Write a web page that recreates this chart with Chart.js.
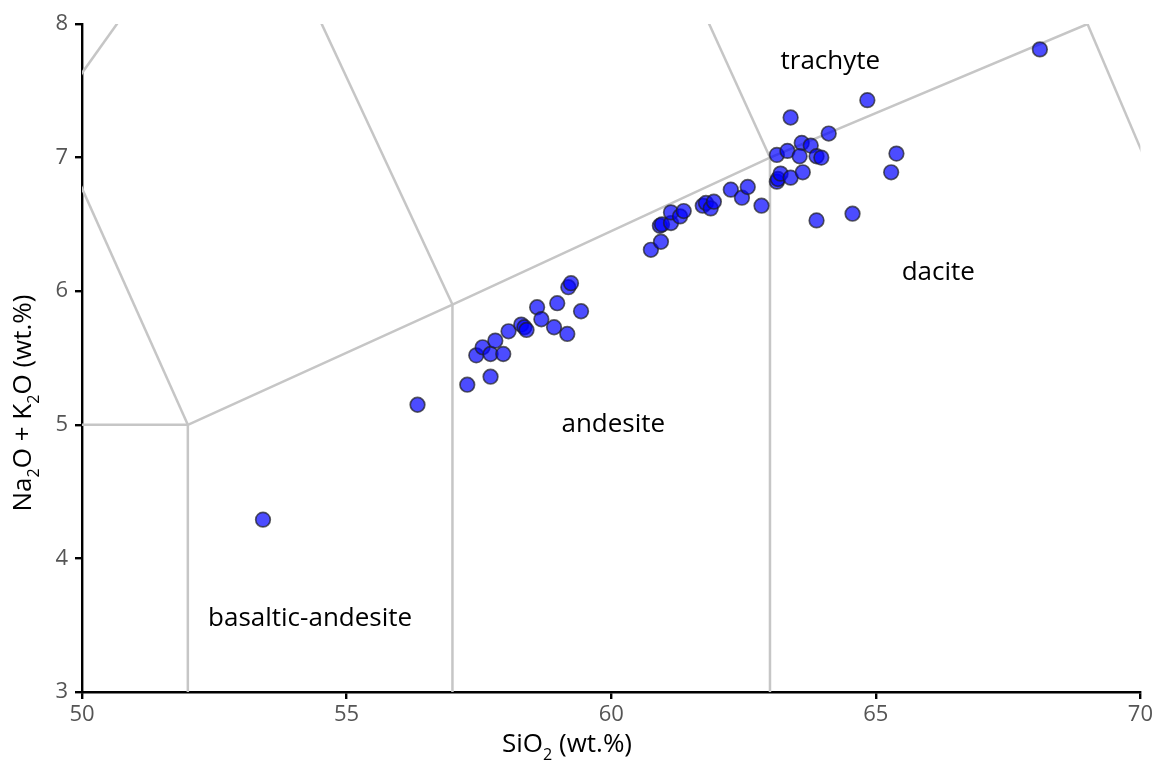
<!DOCTYPE html>
<html>
<head>
<meta charset="utf-8">
<script src="https://cdn.jsdelivr.net/npm/chart.js@4.4.1/dist/chart.umd.min.js"></script>
<style>
  body { margin: 0; background: #fff; }
  #chart { display: block; }
</style>
</head>
<body>
<canvas id="chart" width="1156" height="764"></canvas>
<script>
// sample values
const siO2 = [
  53.42, 56.34, 57.28, 57.72, 57.45, 57.57, 57.72, 57.81, 57.96, 58.06,
  58.30, 58.36, 58.40, 58.60, 58.68, 58.92, 58.98, 59.17, 59.19, 59.24, 59.43,
  60.75, 60.94, 60.92, 60.96, 61.13, 61.13, 61.30, 61.37, 61.73, 61.79,
  61.88, 61.94, 62.26, 62.47, 62.58, 62.84,
  63.13, 63.15, 63.20, 63.39, 63.62, 63.13, 63.33, 63.60, 63.77, 63.56,
  63.88, 63.97, 63.39, 64.11, 64.84, 65.39, 65.29, 63.88, 64.56, 68.10
];
const alkali = [
  4.29, 5.15, 5.30, 5.36, 5.52, 5.58, 5.53, 5.63, 5.53, 5.70,
  5.75, 5.73, 5.71, 5.88, 5.79, 5.73, 5.91, 5.68, 6.03, 6.06, 5.85,
  6.31, 6.37, 6.49, 6.50, 6.51, 6.59, 6.56, 6.60, 6.64, 6.66,
  6.62, 6.67, 6.76, 6.70, 6.78, 6.64,
  6.82, 6.84, 6.88, 6.85, 6.89, 7.02, 7.05, 7.11, 7.09, 7.01,
  7.01, 7.00, 7.30, 7.18, 7.43, 7.03, 6.89, 6.53, 6.58, 7.81
];

// TAS field boundaries (each one a polyline of [SiO2, Na2O+K2O])
const boundaries = [
  [[45, 5], [52, 5]],
  [[52, 0], [52, 5]],
  [[52, 5], [57, 5.9], [63, 7], [69, 8]],
  [[57, 0], [57, 5.9]],
  [[63, 0], [63, 7]],
  [[69, 8], [77.6, 0]],
  [[52, 5], [49.4, 7.3]],
  [[49.4, 7.3], [53, 9.3]],
  [[57, 5.9], [53, 9.3]],
  [[63, 7], [57.6, 11.7]]
];

const fieldNames = ['trachyte', 'dacite', 'andesite', 'basaltic-andesite'];
const fieldX = [64.14, 66.18, 60.04, 54.31];
const fieldY = [7.72, 6.14, 5.0, 3.55];

const xTicks = [50, 55, 60, 65, 70];
const yTicks = [3, 4, 5, 6, 7, 8];

const FONT = '"Open Sans", "Noto Sans", sans-serif';

// draw text with lowered small "2"s, centred on (x, y)
function drawRich(ctx, parts, x, y, angle, size) {
  ctx.save();
  ctx.translate(x, y);
  ctx.rotate(angle);
  ctx.textBaseline = 'middle';
  ctx.textAlign = 'left';
  let total = 0;
  parts.forEach(p => {
    ctx.font = (p.sub ? size * 0.62 : size) + 'px ' + FONT;
    p.w = ctx.measureText(p.t).width;
    total += p.w;
  });
  let cx = -total / 2;
  parts.forEach(p => {
    ctx.font = (p.sub ? size * 0.62 : size) + 'px ' + FONT;
    ctx.fillStyle = '#000';
    ctx.fillText(p.t, cx, p.sub ? size * 0.4 : 0);
    cx += p.w;
  });
  ctx.restore();
}

const labelsPlugin = {
  id: 'tasLabels',
  afterDatasetsDraw(chart) {
    const ctx = chart.ctx;
    const xs = chart.scales.x, ys = chart.scales.y;
    ctx.save();
    ctx.font = '26px ' + FONT;
    ctx.fillStyle = '#000';
    ctx.textAlign = 'center';
    ctx.textBaseline = 'middle';
    fieldNames.forEach((n, i) => {
      ctx.fillText(n, xs.getPixelForValue(fieldX[i]), ys.getPixelForValue(fieldY[i]));
    });
    ctx.restore();

    drawRich(ctx, [{t: 'SiO'}, {t: '2', sub: true}, {t: ' (wt.%)'}], 567, 745, 0, 26);
    drawRich(ctx, [{t: 'Na'}, {t: '2', sub: true}, {t: 'O + K'}, {t: '2', sub: true}, {t: 'O (wt.%)'}],
      24, 403, -Math.PI / 2, 26);
  }
};

const datasets = [{
  data: siO2.map((x, i) => ({x: x, y: alkali[i]})),
  pointRadius: 7.3,
  pointHoverRadius: 7.3,
  backgroundColor: 'rgba(0, 0, 255, 0.7)',
  borderColor: 'rgba(30, 30, 30, 0.7)',
  borderWidth: 1.7,
  showLine: false
}];
boundaries.forEach(seg => {
  datasets.push({
    data: seg.map(p => ({x: p[0], y: p[1]})),
    showLine: true,
    pointRadius: 0,
    borderColor: '#c6c6c6',
    borderWidth: 2.5,
    fill: false
  });
});

const axisStyle = {
  border: { color: '#000', width: 2.4 },
  grid: { drawOnChartArea: false, drawTicks: true, tickLength: 7, color: '#000', lineWidth: 2.4 }
};

new Chart(document.getElementById('chart'), {
  type: 'scatter',
  data: { datasets: datasets },
  options: {
    responsive: false,
    animation: false,
    events: [],
    layout: { padding: { left: 0, right: 13, top: 24, bottom: 0 } },
    plugins: { legend: { display: false }, tooltip: { enabled: false } },
    scales: {
      x: {
        type: 'linear', min: 50, max: 70,
        ...axisStyle,
        afterBuildTicks: s => { s.ticks = xTicks.map(v => ({value: v})); },
        ticks: { color: '#555', font: { size: 22, family: FONT }, padding: 3 },
        afterFit: s => { s.height = 72; }
      },
      y: {
        type: 'linear', min: 3, max: 8,
        ...axisStyle,
        afterBuildTicks: s => { s.ticks = yTicks.map(v => ({value: v})); },
        ticks: { color: '#555', font: { size: 22, family: FONT }, padding: 7 },
        afterFit: s => { s.width = 82; }
      }
    }
  },
  plugins: [labelsPlugin]
});
</script>
</body>
</html>
